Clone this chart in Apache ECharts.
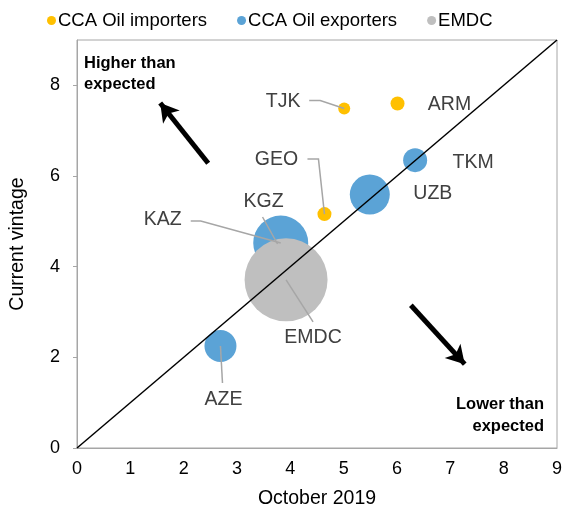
<!DOCTYPE html>
<html>
<head>
<meta charset="utf-8">
<script src="https://cdn.jsdelivr.net/npm/echarts@6/dist/echarts.min.js"></script>
<style>
  html, body { margin: 0; padding: 0; background: #fff; }
  #chart { width: 567px; height: 510px; }
</style>
</head>
<body>
<div id="chart"></div>
<script>
// values: [October 2019, current vintage, bubble size]
var importerNames = ['TJK', 'ARM', 'GEO'];
var importerOct = [5.01, 6.01, 4.64];
var importerNow = [7.49, 7.60, 5.16];
var importerSize = [12, 14, 14];

var exporterNames = ['TKM', 'UZB', 'KAZ', 'KGZ', 'AZE'];
var exporterOct = [6.34, 5.49, 3.82, 3.76, 2.69];
var exporterNow = [6.35, 5.59, 4.52, 4.50, 2.25];
var exporterSize = [24, 40, 55, 8, 32];

var emdcNames = ['EMDC'];
var emdcOct = [3.92];
var emdcNow = [3.71];
var emdcSize = [83];

var yTicks = [0, 2, 4, 6, 8];

var diagonal = [[0, 0], [9, 9]];
var arrowUp = [[2.46, 6.28], [1.56, 7.61]];
var arrowDown = [[6.26, 3.15], [7.27, 1.85]];

// label offset from its bubble (px)
var labelPos = {
  TJK: [-61, -7], ARM: [52, 1], GEO: [-48, -54],
  TKM: [58, 2], UZB: [63, -1], KAZ: [-118, -23],
  KGZ: [-14, -42], AZE: [3, 54], EMDC: [27, 58]
};
// leader line: start offset from the bubble centre, x of the horizontal stub end
var leaderPos = {
  TJK: [-35, -8, -24], GEO: [-17, -55, -6], KAZ: [-90, -22, -80],
  KGZ: [-15, -27], AZE: [2, 37], EMDC: [27, 42]
};

function build(names, xs, ys, sizes) {
  var out = [];
  for (var i = 0; i < names.length; i++) {
    out.push({ name: names[i], value: [xs[i], ys[i], sizes[i]] });
  }
  return out;
}

var leaderData = [];
[[importerNames, importerOct, importerNow], [exporterNames, exporterOct, exporterNow],
 [emdcNames, emdcOct, emdcNow]].forEach(function (g) {
  for (var i = 0; i < g[0].length; i++) {
    if (leaderPos[g[0][i]]) leaderData.push({ name: g[0][i], value: [g[1][i], g[2][i]] });
  }
});

var myChart = echarts.init(document.getElementById('chart'));

var labelStyle = {
  show: true,
  position: 'inside',
  formatter: '{b}',
  color: '#404040',
  fontFamily: 'Liberation Sans',
  fontSize: 19.5
};

function layout(params) {
  var p = labelPos[params.text];
  if (!p) return {};
  return { dx: p[0], dy: p[1] };
}

function renderLeader(params, api) {
  var c = api.coord([api.value(0), api.value(1)]);
  var p = leaderPos[leaderData[params.dataIndex].name];
  var pts = [[c[0] + p[0], c[1] + p[1]]];
  if (p.length > 2) pts.push([c[0] + p[2], c[1] + p[1]]);
  pts.push(c);
  return {
    type: 'polyline',
    shape: { points: pts },
    style: { stroke: '#a6a6a6', lineWidth: 1.5, fill: null }
  };
}

var option = {
  animation: false,
  textStyle: { fontFamily: 'Liberation Sans' },
  legend: {
    top: 6,
    left: 42,
    itemGap: 30,
    itemWidth: 9,
    itemHeight: 9,
    icon: 'circle',
    textStyle: { fontSize: 18.5, color: '#000', padding: [0, 0, 0, -3] },
    data: ['CCA Oil importers', 'CCA Oil exporters', 'EMDC']
  },
  grid: {
    left: 77, top: 40, right: 10, bottom: 62,
    outerBoundsMode: 'none',
    show: true, borderColor: '#a6a6a6', borderWidth: 1
  },
  xAxis: {
    type: 'value', min: 0, max: 9, interval: 1,
    name: 'October 2019', nameLocation: 'middle', nameGap: 41,
    nameTextStyle: { fontSize: 19.5, color: '#000' },
    axisLine: { lineStyle: { color: '#a6a6a6' } },
    axisTick: { show: false },
    axisLabel: { fontSize: 18, color: '#000', margin: 12 },
    splitLine: { show: false }
  },
  yAxis: {
    type: 'value', min: 0, max: 9, interval: 1,
    name: 'Current vintage', nameLocation: 'middle', nameGap: 49,
    nameTextStyle: { fontSize: 19.5, color: '#000' },
    axisLine: { show: true, lineStyle: { color: '#a6a6a6' } },
    axisTick: { show: true, length: 4, customValues: yTicks, lineStyle: { color: '#a6a6a6' } },
    axisLabel: { fontSize: 18, color: '#000', margin: 17, customValues: yTicks },
    splitLine: { show: false }
  },
  graphic: [
    {
      type: 'text', left: 84, top: 53,
      style: { text: 'Higher than\nexpected', font: 'bold 16.5px Liberation Sans', fill: '#000', lineHeight: 21 }
    },
    {
      type: 'text', right: 23, top: 396,
      style: { text: 'Lower than', font: 'bold 16.5px Liberation Sans', fill: '#000' }
    },
    {
      type: 'text', right: 23, top: 418,
      style: { text: 'expected', font: 'bold 16.5px Liberation Sans', fill: '#000' }
    }
  ],
  series: [
    {
      name: 'CCA Oil importers', type: 'scatter', z: 3,
      itemStyle: { color: '#ffc000', opacity: 1 },
      symbolSize: function (v) { return v[2]; },
      label: labelStyle, labelLayout: layout,
      data: build(importerNames, importerOct, importerNow, importerSize)
    },
    {
      name: 'CCA Oil exporters', type: 'scatter', z: 2,
      itemStyle: { color: '#5ba3d6', opacity: 1 },
      symbolSize: function (v) { return v[2]; },
      label: labelStyle, labelLayout: layout,
      data: build(exporterNames, exporterOct, exporterNow, exporterSize)
    },
    {
      name: 'EMDC', type: 'scatter', z: 3,
      itemStyle: { color: '#bfbfbf', opacity: 1 },
      symbolSize: function (v) { return v[2]; },
      label: labelStyle, labelLayout: layout,
      data: build(emdcNames, emdcOct, emdcNow, emdcSize)
    },
    {
      name: 'leaders', type: 'custom', z: 4, silent: true,
      renderItem: renderLeader,
      data: leaderData
    },
    {
      name: 'diagonal', type: 'line', z: 5, silent: true,
      symbol: 'none',
      lineStyle: { color: '#000', width: 1.5 },
      data: diagonal,
      markLine: {
        silent: true,
        symbol: ['none', 'arrow'],
        symbolSize: [16, 18],
        label: { show: false },
        lineStyle: { color: '#000', width: 5, type: 'solid' },
        data: [
          [{ coord: arrowUp[0] }, { coord: arrowUp[1] }],
          [{ coord: arrowDown[0] }, { coord: arrowDown[1] }]
        ]
      }
    }
  ]
};

myChart.setOption(option);
</script>
</body>
</html>
